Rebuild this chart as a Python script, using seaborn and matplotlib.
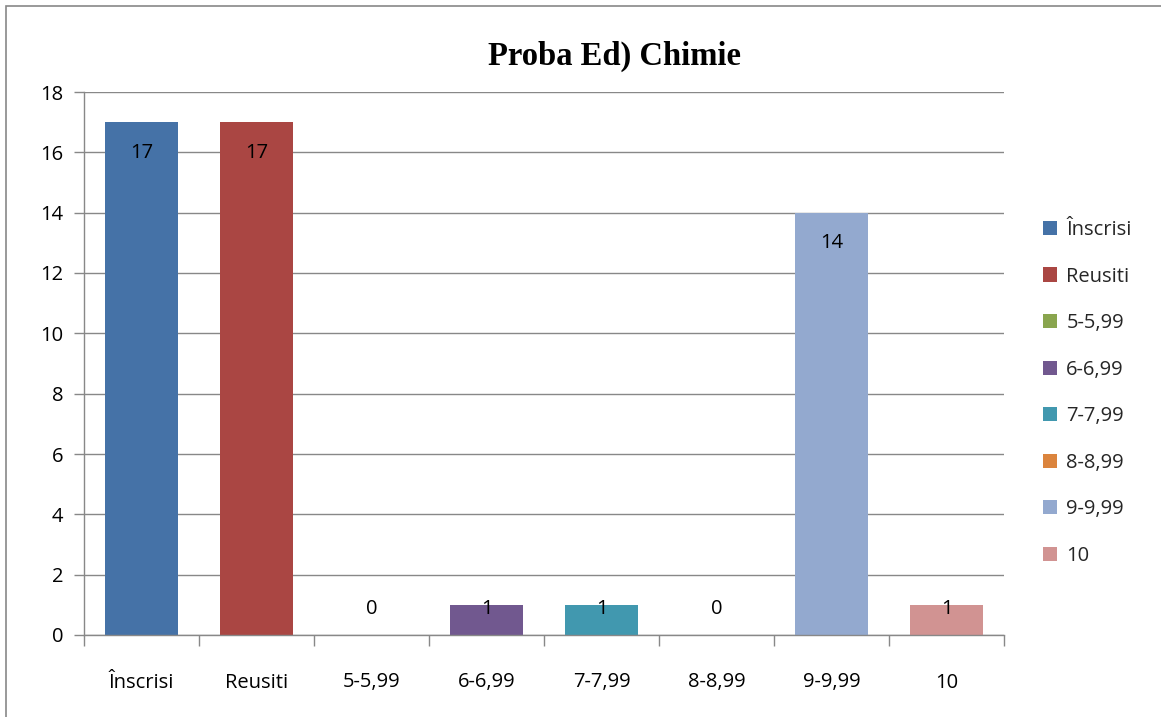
import matplotlib
matplotlib.use("Agg")
import matplotlib.pyplot as plt
import seaborn as sns
import pandas as pd
import numpy as np
from matplotlib.patches import Rectangle
from matplotlib.ticker import FixedLocator

categories = ["Înscrisi", "Reusiti", "5-5,99", "6-6,99", "7-7,99", "8-8,99", "9-9,99", "10"]
values = [17, 17, 0, 1, 1, 0, 14, 1]
colors = ["#4572A7", "#AA4643", "#89A54E", "#71588F", "#4198AF", "#DB843D", "#93A9CF", "#D19392"]
title = "Proba Ed) Chimie"
yticks = [0, 2, 4, 6, 8, 10, 12, 14, 16, 18]

sns.set_theme(style="white")
plt.rcParams['font.family'] = ['Open Sans', 'DejaVu Sans']

FS = 14.5

df = pd.DataFrame({"cat": categories, "val": values})

fig = plt.figure(figsize=(11.61, 7.17), dpi=100)
ax = fig.add_axes([84/1161, 1 - 635/717, 920/1161, (635 - 92)/717])

sns.barplot(data=df, x="cat", y="val", hue="cat", palette=colors, dodge=False,
            width=0.64, legend=True, ax=ax, saturation=1, order=categories,
            hue_order=categories, linewidth=0)

ax.set_ylim(0, 18)
ax.set_yticks(yticks)
ax.set_xlim(-0.5, len(categories) - 0.5)
ax.set_xlabel("")
ax.set_ylabel("")
ax.yaxis.grid(True, color="#888888", linewidth=1.0)
ax.set_axisbelow(True)
for s in ["top", "right"]:
    ax.spines[s].set_visible(False)
for s in ["left", "bottom"]:
    ax.spines[s].set_color("#888888")
    ax.spines[s].set_linewidth(1.0)

ax.set_xticks(list(range(len(categories))))
ax.set_xticklabels(categories, fontsize=FS, color="#000000")
ax.tick_params(axis="x", length=0, pad=27)
ax.xaxis.set_minor_locator(FixedLocator(np.arange(-0.5, len(categories), 1.0)))
ax.tick_params(axis="x", which="minor", length=8, color="#888888", width=1, direction="out", bottom=True)
ax.tick_params(axis="y", length=7, color="#888888", width=1, direction="out", left=True,
               labelsize=FS, pad=8, labelcolor="#000000")

for i, v in enumerate(values):
    if v >= 2:
        ax.annotate(str(v), xy=(i, v), xytext=(0, -22), textcoords="offset points",
                    ha="center", va="center", fontsize=FS, color="#000000")
    else:
        ax.annotate(str(v), xy=(i, 0), xytext=(0, 18.5), textcoords="offset points",
                    ha="center", va="center", fontsize=FS, color="#000000")

fig.text(615/1161, 1 - 56/717, title, ha="center", va="center", fontsize=23.5,
         fontweight="bold", family=["Liberation Serif", "DejaVu Serif"], color="#000000")

sns.move_legend(ax, loc="center left", bbox_to_anchor=(1025/1161, 1 - 393/717),
                bbox_transform=fig.transFigure, frameon=False, title=None,
                fontsize=FS, handlelength=0.7, handleheight=0.7, handletextpad=0.45,
                labelspacing=1.32)

fig.patches.append(Rectangle((6/1161, -0.02), 1.0, 1 - 6/717 + 0.02, transform=fig.transFigure,
                             fill=False, edgecolor="#888888", linewidth=1.2))

fig.savefig("out.png", dpi=100)
